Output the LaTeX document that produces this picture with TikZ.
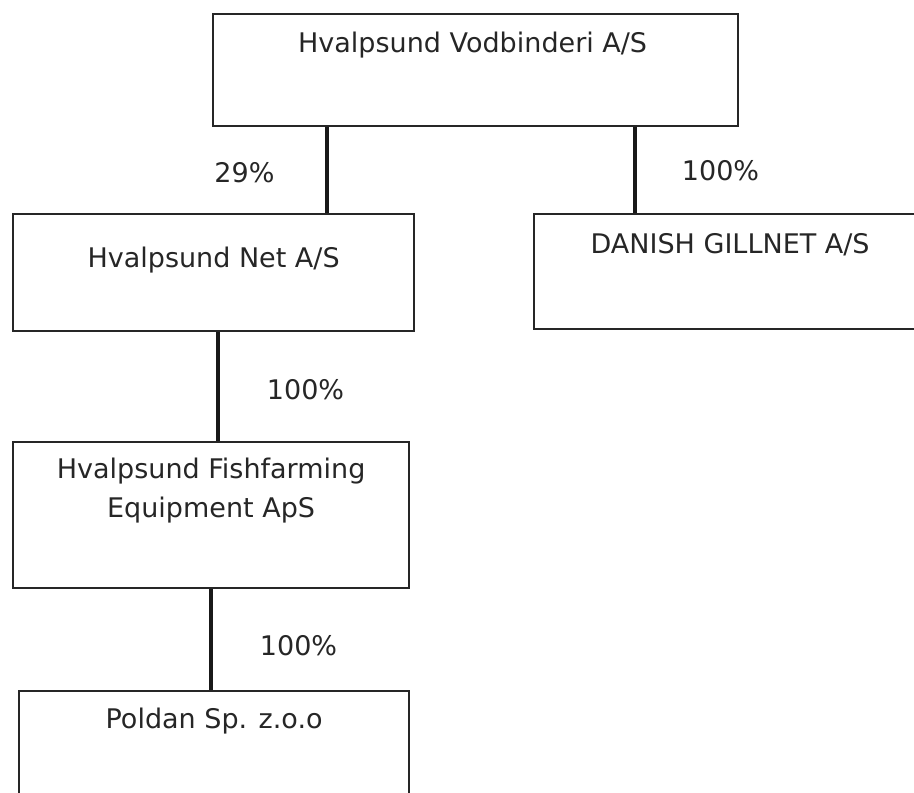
\documentclass[tikz,border=0pt]{standalone}
\usepackage{fontspec}
\setmainfont{DejaVu Sans}
\begin{document}
\begin{tikzpicture}[x=0.5pt, y=-0.5pt,
  company/.style={draw=black!85, rectangle, line width=1.1pt, anchor=north west, inner sep=0pt},
  every label/.style={anchor=north, inner sep=0pt, align=center, text=black!85, font=\fontsize{13.5}{19.5}\selectfont},
  share/.style={draw=black!90, line width=1.8pt},
  pct/.style={inner sep=0pt, text=black!85, font=\fontsize{13.5}{15}\selectfont}]
\useasboundingbox (0,0) rectangle (914,792);
% companies
\node[company, minimum width=262.5pt, minimum height=56pt, label={[xshift=-1.5pt, yshift=-9.1pt]north:Hvalpsund Vodbinderi A/S}] (vod) at (212,13) {};
\node[company, minimum width=200.5pt, minimum height=58.5pt, label={[yshift=-16.6pt]north:Hvalpsund Net A/S}] (net) at (12,213) {};
\node[company, minimum width=196pt, minimum height=57.5pt, label={[yshift=-10pt]north:DANISH GILLNET A/S}] (gill) at (533,213) {};
\node[company, minimum width=198pt, minimum height=73pt, label={[yshift=-8.1pt]north:Hvalpsund Fishfarming\\Equipment ApS}] (fish) at (12,441) {};
\node[company, minimum width=195pt, minimum height=62pt, label={[yshift=-8.6pt]north:Poldan Sp. z.o.o}] (pol) at (18,690) {};
% ownership lines
\draw[share] (vod.south -| 327,0) -- (net.north -| 327,0);
\draw[share] (vod.south -| 635,0) -- (gill.north -| 635,0);
\draw[share] (net.south -| 218,0) -- (fish.north -| 218,0);
\draw[share] (fish.south -| 211,0) -- (pol.north -| 211,0);
% shares
\node[pct] (p29) at (244.5,173) {29\%};
\node[pct] (p100a) at (720.5,171) {100\%};
\node[pct] (p100b) at (305.5,390) {100\%};
\node[pct] (p100c) at (298.5,646) {100\%};
\end{tikzpicture}
\end{document}
